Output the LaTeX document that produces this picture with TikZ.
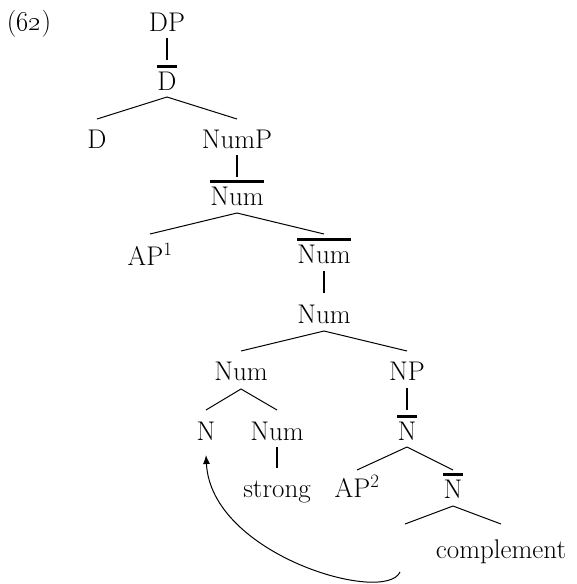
\RequirePackage{fix-cm}
\documentclass[tikz,border=0pt]{standalone}
\usepackage{tikz}
\usetikzlibrary{arrows.meta,positioning}

\begin{document}
\begin{tikzpicture}[
    x=1pt, y=-1pt,
    tnode/.style={inner sep=0pt, anchor=base, font=\fontsize{27}{32}\selectfont},
    branch/.style={line width=1pt},
    unary/.style={line width=2.4pt},
    overbar/.style={line width=2.4pt},
    movement/.style={-{Latex[length=9pt, width=7pt]}, line width=1pt}
]
    \useasboundingbox (0,0) rectangle (576,584);

    \node[tnode] (ex) at (29,30) {(\oldstylenums{62})};

    \node[tnode] (dp) at (167,31) {DP};
    \node[tnode] (dbar) at (167,90) {D};
    \node[tnode] (d) at (97,148) {D};
    \node[tnode] (nump) at (237,148) {NumP};
    \node[tnode] (numbar) at (237,205) {Num};
    \node[tnode] (ap1) at (150,265) {AP$^1$};
    \node[tnode] (numbarb) at (324,263) {Num};
    \node[tnode] (numa) at (324,323) {Num};
    \node[tnode] (numb) at (241,380) {Num};
    \node[tnode] (np) at (407,380) {NP};
    \node[tnode] (n) at (206,440) {N};
    \node[tnode] (numc) at (277,440) {Num};
    \node[tnode] (nbar) at (407,440) {N};
    \node[tnode] (strong) at (277,497) {strong};
    \node[tnode] (ap2) at (357,497) {AP$^2$};
    \node[tnode] (nbarb) at (453,498) {N};
    \node[tnode] (trace) at (405,558) {};
    \node[tnode] (compl) at (501,558) {complement};

    \foreach \n in {dbar,numbar,numbarb,nbar,nbarb}
        \draw[overbar] ([yshift=5pt]\n.north west) -- ([yshift=5pt]\n.north east);

    \draw[unary] ([yshift=-7pt]dp.base) -- ([yshift=30pt]dbar.base);
    \draw[branch] ([yshift=-7pt]dbar.base) -- ([yshift=29pt]d.base);
    \draw[branch] ([yshift=-7pt]dbar.base) -- ([yshift=29pt]nump.base);
    \draw[unary] ([yshift=-7pt]nump.base) -- ([yshift=28pt]numbar.base);
    \draw[branch] ([yshift=-8pt]numbar.base) -- ([yshift=31pt]ap1.base);
    \draw[branch] ([yshift=-8pt]numbar.base) -- ([yshift=29pt]numbarb.base);
    \draw[unary] ([yshift=-8pt]numbarb.base) -- ([yshift=30pt]numa.base);
    \draw[branch] ([yshift=-8pt]numa.base) -- ([yshift=29pt]numb.base);
    \draw[branch] ([yshift=-8pt]numa.base) -- ([yshift=29pt]np.base);
    \draw[branch] ([yshift=-9pt]numb.base) -- ([yshift=30pt]n.base);
    \draw[branch] ([yshift=-9pt]numb.base) -- ([yshift=30pt]numc.base);
    \draw[unary] ([yshift=-8pt]np.base) -- ([yshift=30pt]nbar.base);
    \draw[unary] ([yshift=-7pt]numc.base) -- ([yshift=29pt]strong.base);
    \draw[branch] ([yshift=-7pt]nbar.base) -- ([yshift=27pt]ap2.base);
    \draw[branch] ([yshift=-7pt]nbar.base) -- ([yshift=28pt]nbarb.base);
    \draw[branch] ([yshift=-8pt]nbarb.base) -- ([yshift=34pt]trace.base);
    \draw[branch] ([yshift=-8pt]nbarb.base) -- ([yshift=34pt]compl.base);

    \draw[movement] ([shift={(-5pt,-14pt)}]trace.base) .. controls +(-15,33) and +(5,100) .. ([yshift=-15pt]n.base);
\end{tikzpicture}
\end{document}
